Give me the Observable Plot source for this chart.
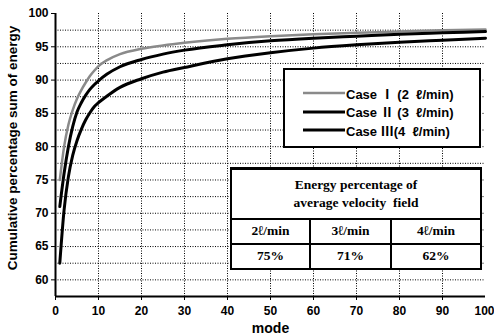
<!DOCTYPE html>
<html><head><meta charset="utf-8">
<script src="https://cdn.jsdelivr.net/npm/d3@7"></script>
<script src="https://cdn.jsdelivr.net/npm/@observablehq/plot@0.6"></script>
<style>
body{margin:0;background:#fff;}
#wrap{position:relative;width:494px;height:335px;overflow:hidden;}
#legend{position:absolute;left:283px;top:68px;width:194px;height:76px;border:2px solid #000;background:#fff;
  font-family:"Liberation Sans",Arial,"Noto Sans CJK JP",sans-serif;font-weight:bold;font-size:13px;color:#000;}
.lrow{position:absolute;left:18px;height:18px;display:flex;align-items:center;white-space:pre;}
.lrow svg{margin-right:1px;}
#tbl{position:absolute;left:230px;top:167px;width:250px;height:100px;border-collapse:collapse;background:#fff;
  font-family:"Liberation Serif","Times New Roman",serif;font-weight:bold;font-size:13.5px;color:#000;table-layout:fixed;}
#tbl td{border:2px solid #000;text-align:center;padding:0;line-height:18px;}
#tbl tr:first-child td{border-top:3px solid #000;}
</style></head><body><div id="wrap"></div>
<script>
// ---- data ----
const modes = [1,2,3,4,5,6,7,8,9,10,12,15,20,25,30,40,50,60,70,80,90,100];
const case1 = [75,80,83.3,85.5,87.2,88.5,89.6,90.6,91.4,92.1,93.0,93.9,94.7,95.2,95.6,96.2,96.6,96.9,97.1,97.3,97.5,97.6];
const case2 = [71,76,80,83,85.2,86.6,87.7,88.6,89.3,89.9,90.9,92.0,93.1,93.9,94.5,95.3,95.9,96.3,96.6,96.9,97.1,97.3];
const case3 = [62.5,70.5,75.5,78.7,80.9,82.6,84,85.1,86,86.6,87.6,88.9,90.2,91.2,91.9,93.2,94.1,94.8,95.3,95.7,96.0,96.3];
const seriesNames = ["Case Ⅰ (2  ℓ/min)","Case Ⅱ (3  ℓ/min)","Case Ⅲ(4  ℓ/min)"];
const xTicks = [0,10,20,30,40,50,60,70,80,90,100];
const yTicks = [60,65,70,75,80,85,90,95,100];
const yGrid = [60,62.5,65,67.5,70,72.5,75,77.5,80,82.5,85,87.5,90,92.5,95,97.5];
const xGrid = [10,20,30,40,50,60,70,80,90];
const tableTitle = ["Energy percentage of","average velocity\u00a0 field"];
const tableFlows = ["2ℓ/min","3ℓ/min","4ℓ/min"];
const tablePct = ["75%","71%","62%"];
const xLabel = "mode";
const yLabel = "Cumulative percentage sum of energy";

const styles = [
  {stroke:"#8a8a8a", width:2.5},
  {stroke:"#000", width:3},
  {stroke:"#000", width:3}
];
const allCases = [case1, case2, case3];
const rows = allCases.map(arr => arr.map((v,j)=>({mode:modes[j], value:v})));

const sans = "Liberation Sans, Arial, sans-serif";
const xAxisOpts = {tickSize:4, tickPadding:6, fontSize:12, fontWeight:"bold", label:null};
const chart = Plot.plot({
  width:494, height:335, marginLeft:55, marginRight:9, marginTop:13, marginBottom:39,
  x:{domain:[0,100]}, y:{domain:[57.5,100]},
  style:{fontFamily:sans, fontWeight:"bold", fontSize:"12px", color:"#000", background:"#fff"},
  marks:[
    Plot.ruleY(yGrid,{stroke:"#000", strokeDasharray:"1,1.5", strokeWidth:1}),
    Plot.ruleX(xGrid,{stroke:"#000", strokeDasharray:"1,1.5", strokeWidth:1}),
    ...rows.map((r,i)=>Plot.line(r,{x:"mode", y:"value", stroke:styles[i].stroke, strokeWidth:styles[i].width, curve:"monotone-x"})),
    Plot.ruleX([0],{stroke:"#000", strokeWidth:2}),
    Plot.ruleY([57.5],{stroke:"#000", strokeWidth:2}),
    Plot.axisY(yTicks,{tickSize:4, tickPadding:3, fontSize:12, fontWeight:"bold", label:null}),
    Plot.axisX(xTicks.slice(0,-1), xAxisOpts),
    Plot.axisX(xTicks.slice(-1), {...xAxisOpts, textAnchor:"end", dx:9}),
    Plot.text([yLabel],{frameAnchor:"left", dx:-43, dy:-7, rotate:-90, textAnchor:"middle", lineAnchor:"middle", fontSize:13.5, fontWeight:"bold"}),
    Plot.text([xLabel],{frameAnchor:"bottom", dy:32, textAnchor:"middle", lineAnchor:"middle", fontSize:14, fontWeight:"bold"})
  ]
});
const wrap = document.getElementById("wrap");
wrap.appendChild(chart);

// legend
const leg = document.createElement("div");
leg.id = "legend";
seriesNames.forEach((n,i)=>{
  const r = document.createElement("div");
  r.className = "lrow";
  r.style.top = (14 + i*18.5) + "px";
  r.innerHTML = `<svg width="42" height="6"><line x1="0" y1="3" x2="42" y2="3" stroke="${styles[i].stroke}" stroke-width="${styles[i].width}"/></svg>`;
  r.appendChild(document.createTextNode(n));
  leg.appendChild(r);
});
wrap.appendChild(leg);

// table
const tbl = document.createElement("table");
tbl.id = "tbl";
tbl.innerHTML = `<colgroup><col style="width:79px"><col style="width:81px"><col style="width:90px"></colgroup>
<tr style="height:50px"><td colspan="3">${tableTitle.join("<br>")}</td></tr>
<tr style="height:25px">${tableFlows.map(t=>`<td>${t}</td>`).join("")}</tr>
<tr style="height:25px">${tablePct.map(t=>`<td>${t}</td>`).join("")}</tr>`;
wrap.appendChild(tbl);
</script>
</body></html>
